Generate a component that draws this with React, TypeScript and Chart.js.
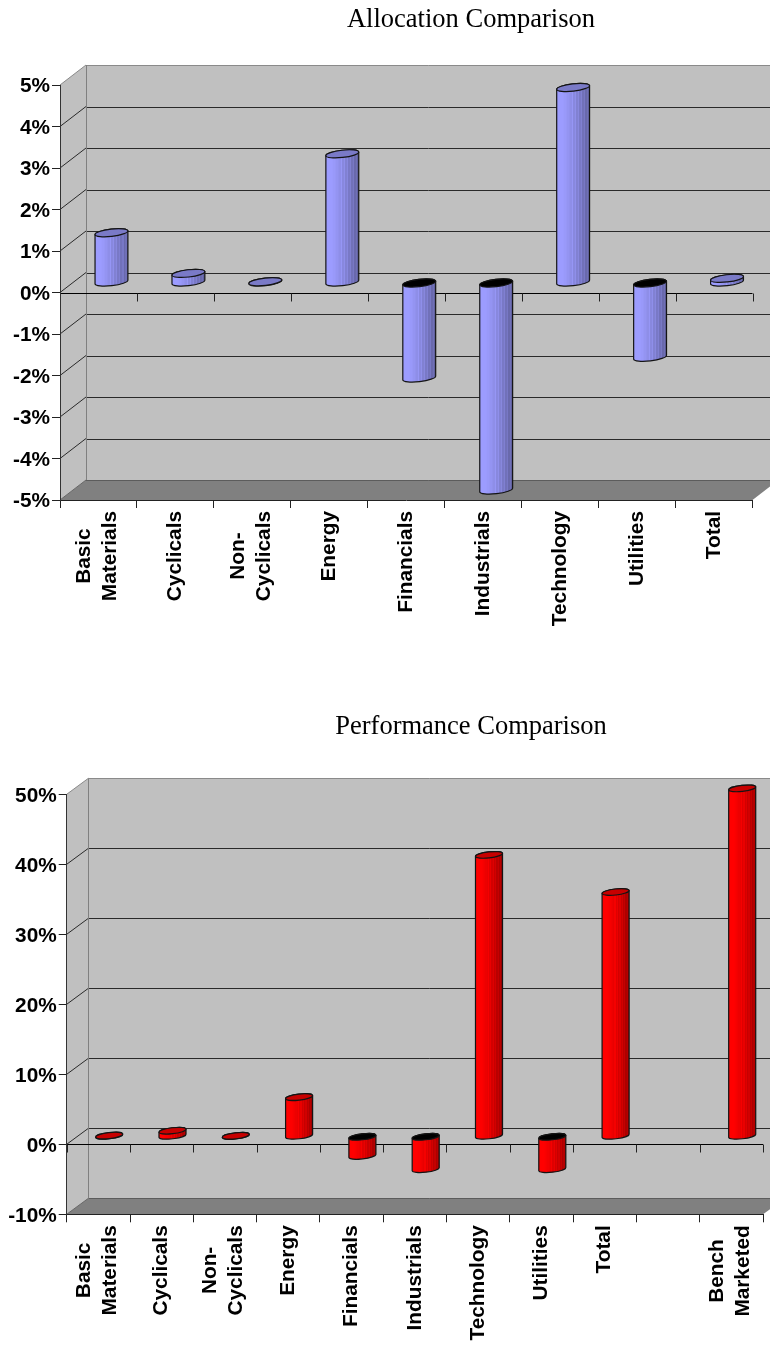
import React, { useEffect, useRef } from "react";
import { Chart, registerables, BarController, BarElement } from "chart.js";

// Sector tables for the two panels (percent values).
const allocationCategories = [["Basic", "Materials"], "Cyclicals", ["Non-", "Cyclicals"], "Energy", "Financials", "Industrials", "Technology", "Utilities", "Total"];
const allocationValues = [1.2, 0.22, 0.02, 3.1, -2.3, -5, 4.7, -1.8, 0.1];

const performanceCategories = [["Basic", "Materials"], "Cyclicals", ["Non-", "Cyclicals"], "Energy", "Financials", "Industrials", "Technology", "Utilities", "Total", "", ["Bench", "Marketed"]];
const performanceValues = [0.1, 0.8, 0.05, 5.6, -2.8, -4.7, 40.2, -4.7, 34.9, null, 49.7];

const LINE_HEIGHT = 26;
const AXIS_FONT = { family: "'Liberation Sans', Arial, sans-serif", weight: "bold" as const, size: 20.8, lineHeight: LINE_HEIGHT / 20.8 };
const HEADING_FONT = "26.5px 'Liberation Serif', 'Times New Roman', serif";

const tone = (rgb: number[], k: number) => `rgb(${rgb.map((c) => Math.round(c * k)).join(",")})`;

// Cylinder drawn in place of a flat bar; it sits halfway into the box depth.
class CylinderBar extends BarElement {
  static id = "cylinderBar";
  static defaults = BarElement.defaults;

  draw(ctx: CanvasRenderingContext2D) {
    const self = this as any;
    const { x, y, base, width } = self;
    const ds = self.cylinderStyle;
    const cx = x + ds.depth.dx / 2;
    const valueY = y + ds.depth.dy / 2;
    const baseY = base + ds.depth.dy / 2;
    const upper = Math.min(valueY, baseY);
    const lower = Math.max(valueY, baseY);
    const rx = width / 2;
    const ry = rx * 0.22;
    const rot = (-6.5 * Math.PI) / 180;
    const rgb: number[] = ds.baseRgb;

    ctx.save();
    ctx.lineWidth = 1.2;
    ctx.strokeStyle = "#141414";

    const grad = ctx.createLinearGradient(cx - rx, 0, cx + rx, 0);
    const facets = 22;
    for (let i = 0; i < facets; i++) {
      const t = i / (facets - 1);
      const ripple = t > 0.45 && i % 2 === 0 ? 0.07 : 0;
      const k = (t < 0.15 ? 1 : 1 - 0.38 * Math.pow((t - 0.15) / 0.85, 1.3)) + ripple;
      grad.addColorStop(i / facets, tone(rgb, Math.min(k, 1)));
      grad.addColorStop((i + 1) / facets, tone(rgb, Math.min(k, 1)));
    }
    ctx.beginPath();
    ctx.ellipse(cx, lower, rx, ry, rot, 0, Math.PI);
    ctx.ellipse(cx, upper, rx, ry, rot, Math.PI, Math.PI * 2);
    ctx.closePath();
    ctx.fillStyle = grad;
    ctx.fill();
    ctx.stroke();

    ctx.beginPath();
    ctx.ellipse(cx, upper, rx, ry, rot, 0, Math.PI * 2);
    ctx.fillStyle = self.belowZero ? "#000000" : tone(rgb, 0.78);
    ctx.fill();
    ctx.stroke();
    ctx.restore();
  }
}

class CylinderController extends BarController {
  static id = "cylinder";
  static defaults = { ...BarController.defaults, dataElementType: "cylinderBar" };

  draw() {
    const ds = this.getDataset();
    this.getMeta().data.forEach((el: any, i: number) => {
      el.cylinderStyle = ds;
      el.belowZero = (ds.data[i] as number) < 0;
    });
    super.draw();
  }
}

Chart.register(...registerables, CylinderBar as any, CylinderController as any);

// Walls, floor, back gridlines and the zero axis of the perspective box.
const depthBox = {
  id: "depthBox",
  beforeDraw(chart: any, _args: any, opts: any) {
    const { ctx, scales } = chart;
    const { x, y } = scales;
    const { dx, dy } = opts;
    const L = x.left;
    const R = x.right;
    const T = y.top;
    const B = y.bottom;
    const snap = (v: number) => Math.round(v) + 0.5;
    const line = (x1: number, y1: number, x2: number, y2: number, color: string) => {
      ctx.strokeStyle = color;
      ctx.beginPath();
      ctx.moveTo(x1, y1);
      ctx.lineTo(x2, y2);
      ctx.stroke();
    };
    const poly = (pts: number[][], color: string) => {
      ctx.fillStyle = color;
      ctx.beginPath();
      pts.forEach(([a, b], i) => (i ? ctx.lineTo(a, b) : ctx.moveTo(a, b)));
      ctx.closePath();
      ctx.fill();
    };

    ctx.save();
    ctx.lineWidth = 1;
    poly([[L + dx, T + dy], [R + dx, T + dy], [R + dx, B + dy], [L + dx, B + dy]], "#c0c0c0");
    poly([[L, T], [L + dx, T + dy], [L + dx, B + dy], [L, B]], "#c0c0c0");
    poly([[L, B], [R, B], [R + dx, B + dy], [L + dx, B + dy]], "#808080");

    y.ticks.forEach((t: any) => {
      const py = y.getPixelForValue(t.value);
      const edge = t.value === y.max;
      const floor = t.value === y.min;
      const color = edge ? "#8a8a8a" : floor ? "#5c5c5c" : "#2a2a2a";
      line(L + dx, snap(py + dy), R + dx, snap(py + dy), color);
      line(L, py, L + dx, py + dy, edge ? "#8a8a8a" : floor ? "#666666" : "#2a2a2a");
    });
    line(snap(L + dx), T + dy, snap(L + dx), B + dy, "#808080");

    const zero = snap(y.getPixelForValue(0));
    line(L, zero, R, zero, "#000000");
    const n = x.ticks.length;
    for (let i = 0; i <= n; i++) {
      const px = snap(x.getPixelForValue(i - 0.5));
      line(px, zero, px, zero + 8, "#222222");
    }

    ctx.fillStyle = "#000000";
    ctx.font = HEADING_FONT;
    ctx.textAlign = "center";
    ctx.textBaseline = "alphabetic";
    ctx.fillText(opts.heading, opts.headingX, opts.headingY);
    ctx.restore();

    // Category lines are centred on each other, with the block hung from the axis.
    ctx.save();
    x.getLabelItems(chart.chartArea).forEach((item: any) => {
      if (item.options.textAlign !== "right") return;
      ctx.font = item.font.string;
      const lines = Array.isArray(item.label) ? item.label : [item.label];
      const widest = Math.max(...lines.map((l: string) => ctx.measureText(l).width));
      item.options.textAlign = "center";
      item.options.translation = [item.options.translation[0], item.options.translation[1] + widest / 2];
      if (lines.length > 1) item.textOffset = LINE_HEIGHT / 2 - ((lines.length - 1) / 2) * LINE_HEIGHT - 1.5;
    });
    // Value labels sit slightly lower than the default vertical centring.
    y.getLabelItems(chart.chartArea).forEach((item: any) => {
      if (item.nudged) return;
      item.nudged = true;
      item.options.translation = [item.options.translation[0] + 1, item.options.translation[1] + 1.5];
    });
    ctx.restore();
  },
};

type PanelProps = {
  labels: any[];
  values: (number | null)[];
  heading: string;
  headingY: number;
  height: number;
  top: number;
  bottom: number;
  left: number;
  right: number;
  dx: number;
  dy: number;
  min: number;
  max: number;
  step: number;
  rgb: number[];
};

function Panel(p: PanelProps) {
  const ref = useRef<HTMLCanvasElement>(null);
  useEffect(() => {
    const chart = new Chart(ref.current!, {
      type: "cylinder" as any,
      data: {
        labels: p.labels,
        datasets: [
          {
            data: p.values,
            barPercentage: 0.43,
            categoryPercentage: 1,
            clip: false,
            depth: { dx: p.dx, dy: p.dy },
            baseRgb: p.rgb,
          } as any,
        ],
      },
      plugins: [depthBox],
      options: {
        animation: false,
        responsive: false,
        devicePixelRatio: 1,
        layout: { padding: { top: p.top, right: 770 - p.right, left: 0, bottom: 0 } },
        plugins: {
          legend: { display: false },
          tooltip: { enabled: false },
          depthBox: { dx: p.dx, dy: p.dy, heading: p.heading, headingX: 471, headingY: p.headingY },
        } as any,
        scales: {
          x: {
            type: "category",
            offset: true,
            afterFit: (s: any) => {
              s.height = p.height - p.bottom;
              s.paddingLeft = 0;
              s.paddingRight = 0;
            },
            grid: { offset: true, drawOnChartArea: false, drawTicks: true, tickLength: 8, color: "#222222" },
            border: { display: true, color: "#222222" },
            ticks: { autoSkip: false, minRotation: 90, maxRotation: 90, padding: 3, color: "#000000", font: AXIS_FONT },
          },
          y: {
            min: p.min,
            max: p.max,
            afterFit: (s: any) => {
              s.width = p.left;
            },
            grid: { drawOnChartArea: false, drawTicks: true, tickLength: 8, color: "#222222" },
            border: { display: true, color: "#333333" },
            ticks: {
              stepSize: p.step,
              padding: 3,
              color: "#000000",
              font: AXIS_FONT,
              callback: (v: any) => `${v}%`,
            },
          },
        },
      },
    });
    return () => chart.destroy();
  }, []);
  return <canvas ref={ref} width={770} height={p.height} style={{ display: "block" }} />;
}

export default function App() {
  return (
    <div style={{ position: "absolute", left: 0, top: 0, width: 770, height: 1345, background: "#ffffff" }}>
      <Panel
        labels={allocationCategories}
        values={allocationValues}
        heading="Allocation Comparison"
        headingY={27}
        height={660}
        top={85}
        bottom={500}
        left={60}
        right={752.5}
        dx={26}
        dy={-20}
        min={-5}
        max={5}
        step={1}
        rgb={[156, 156, 255]}
      />
      <Panel
        labels={performanceCategories}
        values={performanceValues}
        heading="Performance Comparison"
        headingY={74}
        height={685}
        top={134.3}
        bottom={554.3}
        left={66.7}
        right={763}
        dx={21.7}
        dy={-16}
        min={-10}
        max={50}
        step={10}
        rgb={[255, 0, 0]}
      />
    </div>
  );
}
